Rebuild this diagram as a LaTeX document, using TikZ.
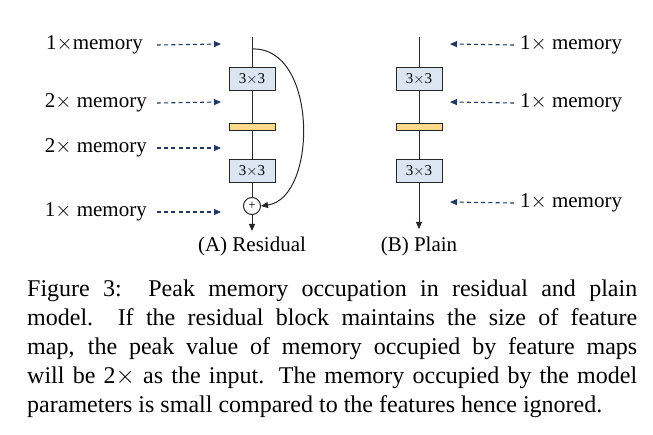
\documentclass[tikz,border=0pt]{standalone}
\usepackage{fontspec}
\setmainfont{Liberation Serif}
\usetikzlibrary{arrows.meta}
\definecolor{boxblue}{HTML}{DCE6F2}
\definecolor{baryellow}{HTML}{FFD98A}
\definecolor{navy}{HTML}{1F3864}
\definecolor{linegray}{HTML}{262626}
\tikzset{
  convbox/.style={draw=linegray, fill=boxblue, line width=1pt, minimum width=46pt, minimum height=23pt, inner sep=0pt, font=\fontsize{15}{15}\selectfont},
  normbar/.style={draw=linegray, fill=baryellow, line width=1pt, minimum width=46pt, minimum height=7pt, inner sep=0pt},
  flow/.style={draw=linegray, line width=1pt},
  memarrow/.style={navy, line width=1.1pt, dash pattern=on 4pt off 3.2pt, -{Triangle[length=7pt,width=6pt]}},
  memlabel/.style={font=\fontsize{21}{21}\selectfont, inner sep=0pt},
  sumnode/.style={circle, draw=linegray, line width=1pt, minimum size=17pt, inner sep=0pt, font=\fontsize{13}{13}\selectfont},
  caplabel/.style={font=\fontsize{21}{21}\selectfont, inner sep=0pt}
}
\begin{document}
\begin{tikzpicture}[x=1pt, y=-1pt]
\useasboundingbox (0,0) rectangle (653,435);
% Residual column
\coordinate (rtop) at (252,37);
\coordinate (rbranch) at (252,49);
\node[convbox] (rb1) at (252,79.5) {3$\times$3};
\node[normbar] (rn) at (252,127.5) {};
\node[convbox] (rb2) at (252,171) {3$\times$3};
\node[sumnode] (rsum) at (252,206) {+};
\coordinate (rend) at (252,231);
\draw[flow] (rtop) -- (rb1.north);
\draw[flow] (rb1.south) -- (rn.north);
\draw[flow] (rn.south) -- (rb2.north);
\draw[flow] (rb2.south) -- (rsum.north);
\draw[flow, -{Triangle[length=7pt,width=6pt]}] (rsum.south) -- (rend);
\draw[flow, -{Triangle[length=7pt,width=6pt]}] (rbranch) .. controls (318,46) and (318,198) .. (rsum.east);
\node[caplabel] (rcap) at (252,246) {(A) Residual};

% Residual labels
\node[memlabel, anchor=east] (l1) at (143,45) {1$\times$memory};
\node[memlabel, anchor=east] (l2) at (147,103) {2$\times$ memory};
\node[memlabel, anchor=east] (l3) at (147,148) {2$\times$ memory};
\node[memlabel, anchor=east] (l4) at (147,212) {1$\times$ memory};
\coordinate (t1) at (221,44);
\coordinate (t2) at (221,102);
\coordinate (t3) at (221,148);
\coordinate (t4) at (221,212);
\draw[memarrow] ([xshift=14pt]l1.east) -- (t1);
\draw[memarrow] ([xshift=10pt]l2.east) -- (t2);
\draw[memarrow] ([xshift=10pt]l3.east) -- (t3);
\draw[memarrow] ([xshift=10pt]l4.east) -- (t4);

% Plain column
\coordinate (ptop) at (419,37);
\node[convbox] (pb1) at (419,79.5) {3$\times$3};
\node[normbar] (pn) at (419,127.5) {};
\node[convbox] (pb2) at (419,171) {3$\times$3};
\coordinate (pend) at (419,229);
\draw[flow] (ptop) -- (pb1.north);
\draw[flow] (pb1.south) -- (pn.north);
\draw[flow] (pn.south) -- (pb2.north);
\draw[flow, -{Triangle[length=7pt,width=6pt]}] (pb2.south) -- (pend);
\node[caplabel] (pcap) at (419,246) {(B) Plain};

% Plain labels
\node[memlabel, anchor=west] (r1) at (520,45) {1$\times$ memory};
\node[memlabel, anchor=west] (r2) at (520,103) {1$\times$ memory};
\node[memlabel, anchor=west] (r3) at (520,203) {1$\times$ memory};
\coordinate (s1) at (450,44);
\coordinate (s2) at (450,102);
\coordinate (s3) at (450,202);
\draw[memarrow] ([xshift=-6pt]r1.west) -- (s1);
\draw[memarrow] ([xshift=-6pt]r2.west) -- (s2);
\draw[memarrow] ([xshift=-6pt]r3.west) -- (s3);

% Caption
\node[anchor=north west, inner sep=0pt, text width=610pt, align=justify, font=\fontsize{24}{29}\selectfont] (caption) at (27,280)
{\parfillskip=0pt Figure 3:\ \ Peak memory occupation in residual and plain\linebreak model.\ \ If the residual block maintains the size of feature\linebreak map, the peak value of memory occupied by feature maps\linebreak will be 2$\times$ as the input. The memory occupied by the model\linebreak parameters is small compared to the features hence ignored.};
\end{tikzpicture}
\end{document}
